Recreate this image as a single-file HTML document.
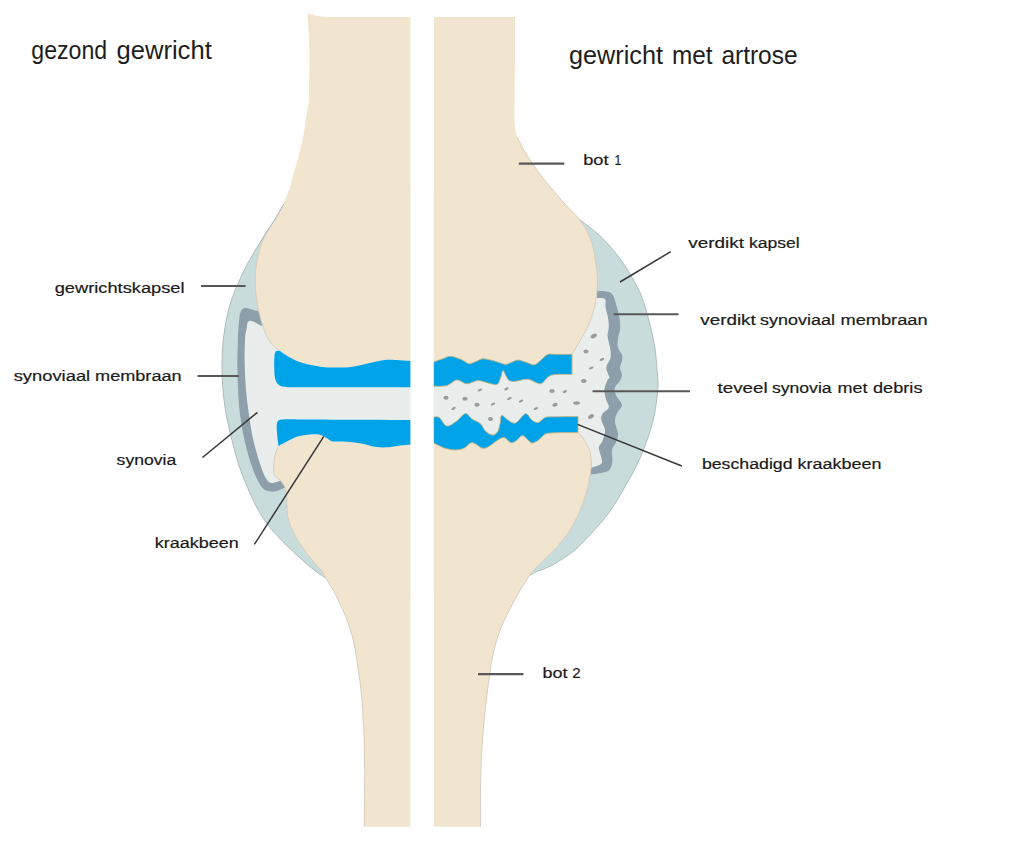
<!DOCTYPE html>
<html lang="nl">
<head>
<meta charset="utf-8">
<title>gezond gewricht / gewricht met artrose</title>
<style>
html,body{margin:0;padding:0;background:#fff;}
body{width:1024px;height:844px;overflow:hidden;font-family:"Liberation Sans",sans-serif;}
svg{display:block;}
text{font-family:"Liberation Sans",sans-serif;fill:#1a1a1a;}
text.l{stroke:#1a1a1a;stroke-width:0.2px;}
text.t{fill:#1e1e1e;}
</style>
</head>
<body>
<svg width="1024" height="844" viewBox="0 0 1024 844">
<rect width="1024" height="844" fill="#fff"/>
<g id="capsule" fill="#c8dcdb">
<path d="M289.2 190.0 C288.3 192.3 286.1 199.2 283.8 204.0 C281.5 208.8 278.3 214.0 275.5 218.5 C272.7 223.0 269.6 227.0 267.0 231.0 C264.4 235.0 262.7 238.1 260.0 242.5 C257.3 246.9 253.7 252.8 251.0 257.5 C248.3 262.2 246.0 266.6 243.8 271.0 C241.6 275.4 239.6 280.1 238.0 283.8 C236.4 287.5 235.5 288.8 234.0 293.0 C232.5 297.2 230.3 303.1 228.8 308.8 C227.3 314.6 226.0 321.3 225.0 327.5 C224.0 333.7 223.2 339.8 222.7 346.0 C222.2 352.2 222.0 359.0 222.0 365.0 C222.0 371.0 222.2 377.0 222.5 382.0 C222.8 387.0 222.9 389.5 223.5 395.0 C224.1 400.5 224.9 407.5 226.3 415.0 C227.7 422.5 229.8 431.7 231.9 440.0 C234.0 448.3 236.2 457.1 238.8 465.0 C241.4 472.9 244.4 480.2 247.5 487.5 C250.6 494.8 253.8 502.1 257.5 508.8 C261.2 515.5 265.2 521.5 270.0 527.5 C274.8 533.5 280.5 539.2 286.3 545.0 C292.1 550.8 299.8 557.9 305.0 562.5 C310.2 567.1 314.2 570.0 317.5 572.5 C320.8 575.0 321.9 573.8 325.0 577.5 C328.1 581.2 334.2 592.1 336.0 595.0 L410.6 595.0 L410.6 190.0 L289.2 190.0 Z"/>
<path d="M555.0 192.5 C556.9 194.7 562.1 200.9 566.3 205.5 C570.5 210.1 575.0 215.5 580.0 220.0 C585.0 224.5 591.5 228.3 596.3 232.5 C601.1 236.7 604.8 240.6 608.8 245.0 C612.8 249.4 616.5 254.0 620.0 258.8 C623.5 263.6 627.1 269.0 630.0 273.8 C632.9 278.6 635.6 283.9 637.5 287.5 C639.4 291.1 639.8 291.6 641.3 295.5 C642.8 299.4 644.6 305.2 646.3 311.0 C648.0 316.8 649.8 323.7 651.3 330.0 C652.8 336.3 654.1 342.6 655.0 348.8 C655.9 355.1 656.4 361.8 656.9 367.5 C657.4 373.2 657.9 378.8 658.0 383.0 C658.1 387.2 657.9 388.4 657.5 392.5 C657.1 396.6 656.4 402.5 655.6 407.5 C654.8 412.5 653.9 417.3 652.5 422.5 C651.1 427.7 649.4 433.4 647.5 438.8 C645.6 444.2 643.6 449.6 641.3 455.0 C639.0 460.4 636.2 466.3 633.8 471.0 C631.4 475.7 629.5 478.6 627.0 483.0 C624.5 487.4 621.6 492.8 618.8 497.5 C616.0 502.2 613.1 506.9 610.0 511.3 C606.9 515.7 603.8 519.4 600.0 523.8 C596.2 528.2 591.7 533.1 587.5 537.5 C583.3 541.9 579.2 546.5 575.0 550.0 C570.8 553.5 566.7 556.1 562.5 558.8 C558.3 561.5 554.2 564.2 550.0 566.3 C545.8 568.4 540.8 569.8 537.5 571.3 C534.2 572.8 532.9 571.9 530.0 575.0 C527.1 578.1 521.7 587.5 520.0 590.0 L433.6 590.0 L433.6 192.5 L555.0 192.5 Z"/>
</g>
<g id="synovia" fill="#e9eeec">
<path d="M259.0 311.5 C257.5 311.1 252.4 309.6 250.0 309.0 C247.6 308.4 246.1 307.5 244.5 308.0 C242.9 308.5 241.5 309.2 240.5 312.0 C239.5 314.8 239.0 320.3 238.6 325.0 C238.2 329.7 238.0 333.3 237.8 340.0 C237.6 346.7 237.3 356.7 237.3 365.0 C237.3 373.3 237.6 381.7 238.0 390.0 C238.4 398.3 238.9 406.7 240.0 415.0 C241.1 423.3 242.5 431.7 244.4 440.0 C246.3 448.3 248.9 457.9 251.3 465.0 C253.7 472.1 256.5 478.3 258.8 482.5 C261.1 486.7 262.3 488.5 265.0 490.0 C267.7 491.5 271.5 492.0 275.0 491.5 C278.5 491.0 284.2 487.8 286.0 487.0 L410.6 487.0 L410.6 311.5 L259.0 311.5 Z"/>
<path d="M597.0 290.8 C598.3 290.9 602.8 290.9 605.0 291.2 C607.2 291.5 609.1 291.7 610.5 292.5 C611.9 293.3 612.7 294.4 613.5 296.0 C614.3 297.6 614.8 299.5 615.5 302.0 C616.2 304.5 617.2 307.8 618.0 311.0 C618.8 314.2 619.7 317.8 620.0 321.0 C620.3 324.2 620.3 327.0 620.0 330.0 C619.7 333.0 618.3 336.1 618.0 339.0 C617.7 341.9 617.3 344.8 618.0 347.5 C618.7 350.2 621.3 352.8 622.0 355.0 C622.7 357.2 622.3 358.9 622.0 361.0 C621.7 363.1 620.0 365.2 620.0 367.5 C620.0 369.8 622.0 372.8 622.0 375.0 C622.0 377.2 621.2 378.9 620.0 381.0 C618.8 383.1 615.7 385.2 615.0 387.5 C614.3 389.8 614.8 392.1 616.0 395.0 C617.2 397.9 621.8 402.1 622.0 405.0 C622.2 407.9 618.7 409.8 617.5 412.5 C616.3 415.2 614.9 417.4 615.0 421.0 C615.1 424.6 617.8 430.4 618.0 434.0 C618.2 437.6 617.0 439.8 616.0 442.5 C615.0 445.2 612.6 446.9 612.0 450.0 C611.4 453.1 612.9 457.7 612.5 461.0 C612.1 464.3 611.3 468.0 609.4 470.0 C607.5 472.0 604.1 472.2 601.0 473.0 C597.9 473.8 592.2 474.3 590.5 474.6 L433.6 474.6 L433.6 290.8 L597.0 290.8 Z"/>
</g>
<g id="membrane" fill="#8d9fab">
<path d="M259.0 311.5 C257.5 311.1 252.4 309.6 250.0 309.0 C247.6 308.4 246.1 307.5 244.5 308.0 C242.9 308.5 241.5 309.2 240.5 312.0 C239.5 314.8 239.0 320.3 238.6 325.0 C238.2 329.7 238.0 333.3 237.8 340.0 C237.6 346.7 237.3 356.7 237.3 365.0 C237.3 373.3 237.6 381.7 238.0 390.0 C238.4 398.3 238.9 406.7 240.0 415.0 C241.1 423.3 242.5 431.7 244.4 440.0 C246.3 448.3 248.9 457.9 251.3 465.0 C253.7 472.1 256.5 478.3 258.8 482.5 C261.1 486.7 262.3 488.5 265.0 490.0 C267.7 491.5 271.5 492.0 275.0 491.5 C278.5 491.0 284.2 487.8 286.0 487.0 L281.0 480.5 C279.3 480.9 273.6 483.5 271.0 483.0 C268.4 482.5 267.2 480.5 265.5 477.5 C263.8 474.5 262.5 471.2 260.5 465.0 C258.5 458.8 255.2 448.3 253.3 440.0 C251.4 431.7 250.2 423.3 249.0 415.0 C247.8 406.7 246.7 398.3 246.0 390.0 C245.3 381.7 244.9 373.3 244.7 365.0 C244.5 356.7 244.7 345.8 245.0 340.0 C245.3 334.2 245.7 333.2 246.4 330.0 C247.2 326.8 246.7 321.4 249.5 320.8 C252.3 320.2 260.8 325.6 263.0 326.5 L259.0 311.5 Z"/>
<path d="M597.0 290.8 C598.3 290.9 602.8 290.9 605.0 291.2 C607.2 291.5 609.1 291.7 610.5 292.5 C611.9 293.3 612.7 294.4 613.5 296.0 C614.3 297.6 614.8 299.5 615.5 302.0 C616.2 304.5 617.2 307.8 618.0 311.0 C618.8 314.2 619.7 317.8 620.0 321.0 C620.3 324.2 620.3 327.0 620.0 330.0 C619.7 333.0 618.3 336.1 618.0 339.0 C617.7 341.9 617.3 344.8 618.0 347.5 C618.7 350.2 621.3 352.8 622.0 355.0 C622.7 357.2 622.3 358.9 622.0 361.0 C621.7 363.1 620.0 365.2 620.0 367.5 C620.0 369.8 622.0 372.8 622.0 375.0 C622.0 377.2 621.2 378.9 620.0 381.0 C618.8 383.1 615.7 385.2 615.0 387.5 C614.3 389.8 614.8 392.1 616.0 395.0 C617.2 397.9 621.8 402.1 622.0 405.0 C622.2 407.9 618.7 409.8 617.5 412.5 C616.3 415.2 614.9 417.4 615.0 421.0 C615.1 424.6 617.8 430.4 618.0 434.0 C618.2 437.6 617.0 439.8 616.0 442.5 C615.0 445.2 612.6 446.9 612.0 450.0 C611.4 453.1 612.9 457.7 612.5 461.0 C612.1 464.3 611.3 468.0 609.4 470.0 C607.5 472.0 604.1 472.2 601.0 473.0 C597.9 473.8 592.2 474.3 590.5 474.6 L591.0 467.8 C592.7 467.1 599.6 465.5 601.3 463.8 C603.0 462.1 601.7 460.2 601.3 457.5 C600.9 454.8 598.6 450.2 598.8 447.5 C599.0 444.8 601.5 443.9 602.5 441.0 C603.5 438.1 605.2 433.5 605.0 430.0 C604.8 426.5 601.7 422.7 601.3 420.0 C600.9 417.3 601.2 415.9 602.5 413.8 C603.8 411.7 608.2 409.8 608.8 407.5 C609.4 405.2 607.0 402.9 606.3 400.0 C605.6 397.1 604.2 393.3 604.4 390.0 C604.6 386.7 606.7 382.1 607.5 380.0 C608.3 377.9 609.6 379.6 609.4 377.5 C609.2 375.4 606.1 370.8 606.3 367.5 C606.5 364.2 610.0 360.8 610.6 357.5 C611.2 354.2 610.5 351.1 610.0 347.5 C609.5 343.9 607.7 339.3 607.5 336.0 C607.3 332.7 608.7 330.6 608.8 327.5 C608.9 324.4 608.5 320.8 608.0 317.5 C607.5 314.2 606.1 310.6 605.6 307.5 C605.1 304.4 606.4 300.6 605.0 299.0 C603.6 297.4 598.3 298.2 597.0 298.0 L597.0 290.8 Z"/>
</g>
<g id="debris" fill="#9b9b98"><ellipse cx="593.8" cy="336.0" rx="3.4" ry="1.9" transform="rotate(-30 593.8 336.0)"/><ellipse cx="586.0" cy="351.5" rx="2.5" ry="1.9" transform="rotate(0 586.0 351.5)"/><ellipse cx="602.0" cy="359.4" rx="2.4" ry="1.2" transform="rotate(-25 602.0 359.4)"/><ellipse cx="591.3" cy="368.0" rx="2.4" ry="1.2" transform="rotate(-25 591.3 368.0)"/><ellipse cx="583.8" cy="381.0" rx="2.8" ry="1.9" transform="rotate(0 583.8 381.0)"/><ellipse cx="552.0" cy="391.0" rx="2.6" ry="2.0" transform="rotate(0 552.0 391.0)"/><ellipse cx="564.8" cy="391.6" rx="2.3" ry="1.2" transform="rotate(-25 564.8 391.6)"/><ellipse cx="555.0" cy="404.8" rx="2.7" ry="1.8" transform="rotate(-15 555.0 404.8)"/><ellipse cx="576.6" cy="403.0" rx="3.4" ry="1.8" transform="rotate(0 576.6 403.0)"/><ellipse cx="591.0" cy="416.5" rx="3.2" ry="1.9" transform="rotate(-30 591.0 416.5)"/><ellipse cx="446.0" cy="397.8" rx="2.6" ry="2.0" transform="rotate(0 446.0 397.8)"/><ellipse cx="465.0" cy="398.8" rx="2.6" ry="2.0" transform="rotate(0 465.0 398.8)"/><ellipse cx="480.0" cy="390.0" rx="2.4" ry="1.2" transform="rotate(-25 480.0 390.0)"/><ellipse cx="477.0" cy="404.8" rx="2.6" ry="2.0" transform="rotate(0 477.0 404.8)"/><ellipse cx="493.0" cy="404.0" rx="2.5" ry="1.2" transform="rotate(-25 493.0 404.0)"/><ellipse cx="453.6" cy="408.5" rx="2.3" ry="1.2" transform="rotate(-30 453.6 408.5)"/><ellipse cx="490.5" cy="419.0" rx="2.5" ry="1.9" transform="rotate(0 490.5 419.0)"/><ellipse cx="506.5" cy="388.8" rx="2.4" ry="1.2" transform="rotate(-25 506.5 388.8)"/><ellipse cx="509.5" cy="398.5" rx="2.5" ry="1.2" transform="rotate(-25 509.5 398.5)"/><ellipse cx="521.0" cy="401.0" rx="2.3" ry="1.2" transform="rotate(-25 521.0 401.0)"/><ellipse cx="536.0" cy="408.5" rx="2.5" ry="1.2" transform="rotate(-25 536.0 408.5)"/></g>
<g id="bones" fill="#f2e5cf">
<path d="M410.6 17.0 L330.0 17.0 C328.0 16.8 321.8 16.7 318.0 16.0 C314.2 15.3 309.2 13.5 307.5 13.0 C307.8 19.2 309.2 38.8 309.5 50.0 C309.8 61.2 309.1 71.7 309.0 80.0 C308.9 88.3 309.2 94.6 308.8 100.0 C308.4 105.4 307.5 108.3 306.9 112.5 C306.3 116.7 305.6 120.8 305.0 125.0 C304.4 129.2 303.9 133.3 303.1 137.5 C302.3 141.7 301.0 145.8 300.0 150.0 C299.0 154.2 298.0 158.3 296.9 162.5 C295.8 166.7 294.4 170.4 293.1 175.0 C291.8 179.6 290.8 185.2 289.2 190.0 C287.6 194.8 285.8 199.8 283.8 204.0 C281.9 208.2 279.8 211.1 277.5 215.0 C275.2 218.9 272.4 223.3 270.0 227.5 C267.6 231.7 264.9 235.8 263.0 240.0 C261.1 244.2 259.9 248.3 258.8 252.5 C257.7 256.7 256.9 260.8 256.3 265.0 C255.7 269.2 255.4 273.3 255.3 277.5 C255.2 281.7 255.2 285.4 255.6 290.0 C256.0 294.6 256.6 299.8 257.5 305.0 C258.4 310.2 259.8 316.0 261.3 321.0 C262.8 326.0 264.4 331.0 266.3 335.0 C268.2 339.0 270.2 342.3 272.5 345.0 C274.8 347.7 277.1 348.9 280.0 351.0 C282.9 353.1 286.2 355.5 290.0 357.5 C293.8 359.5 297.1 361.4 302.5 363.0 C307.9 364.6 316.8 366.2 322.5 367.0 C328.2 367.8 332.2 367.5 337.0 367.5 C341.8 367.5 345.5 367.8 351.0 367.0 C356.5 366.2 364.3 364.2 370.0 363.0 C375.7 361.8 380.0 360.4 385.0 360.0 C390.0 359.6 395.7 360.1 400.0 360.3 C404.3 360.5 408.8 360.9 410.6 361.0 L410.6 17.0 Z"/>
<path d="M410.6 444.5 C408.8 444.7 403.9 445.1 400.0 445.6 C396.1 446.1 391.7 447.1 387.5 447.3 C383.3 447.5 379.2 447.4 375.0 446.8 C370.8 446.2 366.7 444.6 362.5 443.8 C358.3 443.0 354.1 442.4 350.0 442.0 C345.9 441.6 341.1 441.8 338.0 441.6 C334.9 441.4 333.5 441.8 331.3 441.0 C329.1 440.2 327.1 438.1 325.0 437.0 C322.9 435.9 321.3 435.0 318.8 434.6 C316.3 434.2 313.6 434.1 310.0 434.4 C306.4 434.7 301.7 435.1 297.5 436.5 C293.3 437.9 288.2 440.9 285.0 442.5 C281.8 444.1 279.6 445.4 278.5 446.0 C277.9 447.5 275.8 451.8 275.0 455.0 C274.2 458.2 273.9 461.7 273.8 465.0 C273.7 468.3 273.4 472.5 274.4 475.0 C275.4 477.5 278.2 477.9 280.0 480.0 C281.8 482.1 283.9 485.0 285.0 487.5 C286.1 490.0 286.2 492.5 286.5 495.0 C286.8 497.5 286.7 499.2 286.9 502.5 C287.1 505.8 286.8 510.8 287.5 515.0 C288.2 519.2 289.6 523.3 291.3 527.5 C293.0 531.7 295.0 535.8 297.5 540.0 C300.0 544.2 303.2 548.3 306.3 552.5 C309.4 556.7 313.8 562.0 316.3 565.0 C318.8 568.0 319.6 568.2 321.3 570.5 C323.0 572.8 324.2 575.3 326.3 578.8 C328.4 582.3 331.5 587.1 333.8 591.3 C336.1 595.5 338.0 599.6 340.0 603.8 C342.0 608.0 343.9 612.1 345.6 616.3 C347.3 620.5 348.6 624.4 350.0 628.8 C351.4 633.2 352.8 637.9 353.8 642.5 C354.9 647.1 355.5 651.2 356.3 656.3 C357.1 661.4 358.0 667.4 358.8 673.0 C359.6 678.6 360.4 684.2 361.0 690.0 C361.6 695.8 362.0 699.7 362.5 708.0 C363.0 716.3 363.8 728.0 364.2 740.0 C364.6 752.0 364.6 765.5 364.6 780.0 C364.6 794.5 364.4 819.0 364.3 826.8 L410.6 826.8 L410.6 444.5 Z"/>
<path d="M433.6 17.0 L515.0 17.0 C515.0 24.2 515.1 46.2 515.0 60.0 C514.9 73.8 514.6 89.2 514.6 100.0 C514.6 110.8 514.3 118.8 514.8 125.0 C515.3 131.2 516.0 133.3 517.5 137.5 C519.0 141.7 521.3 145.6 523.8 150.0 C526.3 154.4 529.4 159.2 532.5 163.8 C535.6 168.4 538.8 172.7 542.5 177.5 C546.2 182.3 551.0 187.8 555.0 192.5 C559.0 197.2 562.1 200.9 566.3 205.5 C570.5 210.1 576.5 215.5 580.0 220.0 C583.5 224.5 585.4 228.3 587.5 232.5 C589.6 236.7 591.2 240.8 592.5 245.0 C593.8 249.2 594.3 253.2 595.0 257.5 C595.7 261.8 596.5 266.6 596.9 271.0 C597.3 275.4 597.5 280.2 597.5 283.8 C597.5 287.4 597.3 289.0 596.9 292.5 C596.5 296.0 595.9 300.8 595.0 305.0 C594.1 309.2 593.0 313.3 591.5 317.5 C590.0 321.7 588.1 325.8 586.0 330.0 C583.9 334.2 581.3 338.4 579.0 342.5 C576.7 346.6 573.2 352.4 572.0 354.4 C569.2 354.4 559.5 354.3 555.4 354.3 C551.3 354.3 550.0 353.6 547.5 354.6 C545.0 355.6 542.7 358.8 540.5 360.5 C538.3 362.2 536.7 364.5 534.3 364.8 C531.9 365.1 528.7 363.1 526.0 362.3 C523.3 361.5 520.5 360.0 518.0 360.0 C515.5 360.0 513.1 361.8 511.0 362.5 C508.9 363.2 507.5 364.4 505.5 364.4 C503.5 364.4 501.1 363.1 499.0 362.5 C496.9 361.9 495.7 361.2 493.0 360.6 C490.3 360.0 485.8 358.7 483.0 358.8 C480.2 358.9 478.3 360.7 476.0 361.5 C473.7 362.3 471.3 363.9 469.3 363.8 C467.3 363.7 465.7 361.8 464.0 361.0 C462.3 360.2 461.6 359.6 459.3 358.8 C457.1 358.0 453.4 356.3 450.5 356.3 C447.6 356.3 444.8 358.1 442.0 359.0 C439.2 359.9 435.0 361.5 433.6 362.0 L433.6 17.0 Z"/>
<path d="M433.6 443.0 C435.4 443.8 440.7 446.8 444.3 448.0 C447.9 449.2 452.2 450.0 455.5 450.0 C458.8 450.0 461.8 449.2 464.3 448.0 C466.8 446.8 468.6 443.7 470.5 443.0 C472.4 442.3 473.6 443.0 475.5 443.8 C477.4 444.6 479.7 447.5 481.8 448.0 C483.9 448.5 485.3 448.3 488.0 447.0 C490.7 445.7 495.3 441.6 498.0 440.0 C500.7 438.4 502.2 437.1 504.3 437.5 C506.4 437.9 508.6 441.9 510.5 442.5 C512.4 443.1 513.5 442.4 515.5 441.3 C517.5 440.2 520.3 435.8 522.4 435.6 C524.5 435.4 526.4 438.8 528.0 440.0 C529.6 441.2 530.3 442.8 531.8 443.0 C533.3 443.2 535.2 442.2 536.8 441.3 C538.4 440.4 540.0 438.6 541.5 437.3 C543.0 436.1 543.7 434.6 546.0 433.8 C548.3 433.1 550.1 433.0 555.4 432.8 C560.7 432.6 574.2 432.6 578.0 432.6 C578.5 433.0 579.9 433.7 581.0 435.0 C582.1 436.3 583.5 438.7 584.7 440.6 C585.9 442.5 587.1 444.4 588.0 446.5 C588.9 448.6 589.8 449.9 590.3 453.0 C590.8 456.1 591.3 461.2 591.3 465.0 C591.2 468.8 590.4 473.2 590.0 476.0 C589.6 478.8 589.6 479.2 589.0 482.0 C588.4 484.8 587.6 488.2 586.3 492.5 C585.0 496.8 583.2 502.7 581.3 507.5 C579.4 512.3 577.3 516.9 575.0 521.3 C572.7 525.7 570.4 529.6 567.5 533.8 C564.6 538.0 560.8 542.5 557.5 546.3 C554.2 550.0 550.8 553.0 547.5 556.3 C544.2 559.6 540.4 563.2 537.5 566.3 C534.6 569.4 532.1 572.3 530.0 575.0 C527.9 577.7 527.1 579.2 525.0 582.5 C522.9 585.8 520.0 590.6 517.5 595.0 C515.0 599.4 512.3 604.4 510.0 608.8 C507.7 613.2 505.7 617.1 503.8 621.3 C501.9 625.5 500.3 629.6 498.8 633.8 C497.3 638.0 496.1 641.9 495.0 646.3 C493.9 650.7 492.7 655.6 491.9 660.0 C491.1 664.4 490.9 665.8 490.0 672.5 C489.1 679.2 487.6 688.8 486.3 700.0 C485.1 711.2 483.4 726.7 482.5 740.0 C481.6 753.3 481.0 765.5 480.7 780.0 C480.4 794.5 480.5 819.0 480.5 826.8 L433.6 826.8 L433.6 443.0 Z"/>
</g>
<g id="bone-outline" fill="none" stroke="#d3cabb" stroke-width="0.9">
<path d="M283.8 204.0 C282.8 205.8 279.8 211.1 277.5 215.0 C275.2 218.9 272.4 223.3 270.0 227.5 C267.6 231.7 264.9 235.8 263.0 240.0 C261.1 244.2 259.9 248.3 258.8 252.5 C257.7 256.7 256.9 260.8 256.3 265.0 C255.7 269.2 255.4 273.3 255.3 277.5 C255.2 281.7 255.2 285.4 255.6 290.0 C256.0 294.6 256.6 299.8 257.5 305.0 C258.4 310.2 259.8 316.0 261.3 321.0 C262.8 326.0 264.4 331.0 266.3 335.0 C268.2 339.0 270.2 342.3 272.5 345.0 C274.8 347.7 278.8 350.0 280.0 351.0 "/>
<path d="M278.5 446.0 C277.9 447.5 275.8 451.8 275.0 455.0 C274.2 458.2 273.9 461.7 273.8 465.0 C273.7 468.3 273.4 472.5 274.4 475.0 C275.4 477.5 278.2 477.9 280.0 480.0 C281.8 482.1 283.9 485.0 285.0 487.5 C286.1 490.0 286.2 492.5 286.5 495.0 C286.8 497.5 286.7 499.2 286.9 502.5 C287.1 505.8 286.8 510.8 287.5 515.0 C288.2 519.2 289.6 523.3 291.3 527.5 C293.0 531.7 295.0 535.8 297.5 540.0 C300.0 544.2 303.2 548.3 306.3 552.5 C309.4 556.7 313.8 562.0 316.3 565.0 C318.8 568.0 319.6 568.2 321.3 570.5 C323.0 572.8 324.2 575.3 326.3 578.8 C328.4 582.3 331.5 587.1 333.8 591.3 C336.1 595.5 338.0 599.6 340.0 603.8 C342.0 608.0 343.9 612.1 345.6 616.3 C347.3 620.5 348.6 624.4 350.0 628.8 C351.4 633.2 352.8 637.9 353.8 642.5 C354.9 647.1 355.5 651.2 356.3 656.3 C357.1 661.4 358.0 667.4 358.8 673.0 C359.6 678.6 360.4 684.2 361.0 690.0 C361.6 695.8 362.0 699.7 362.5 708.0 C363.0 716.3 363.8 728.0 364.2 740.0 C364.6 752.0 364.6 765.5 364.6 780.0 C364.6 794.5 364.4 819.0 364.3 826.8 "/>
<path d="M517.5 137.5 C518.5 139.6 521.3 145.6 523.8 150.0 C526.3 154.4 529.4 159.2 532.5 163.8 C535.6 168.4 538.8 172.7 542.5 177.5 C546.2 182.3 551.0 187.8 555.0 192.5 C559.0 197.2 562.1 200.9 566.3 205.5 C570.5 210.1 576.5 215.5 580.0 220.0 C583.5 224.5 585.4 228.3 587.5 232.5 C589.6 236.7 591.2 240.8 592.5 245.0 C593.8 249.2 594.3 253.2 595.0 257.5 C595.7 261.8 596.5 266.6 596.9 271.0 C597.3 275.4 597.5 280.2 597.5 283.8 C597.5 287.4 597.3 289.0 596.9 292.5 C596.5 296.0 595.9 300.8 595.0 305.0 C594.1 309.2 593.0 313.3 591.5 317.5 C590.0 321.7 588.1 325.8 586.0 330.0 C583.9 334.2 581.3 338.4 579.0 342.5 C576.7 346.6 573.2 352.4 572.0 354.4 "/>
<path d="M578.0 432.6 C578.5 433.0 579.9 433.7 581.0 435.0 C582.1 436.3 583.5 438.7 584.7 440.6 C585.9 442.5 587.1 444.4 588.0 446.5 C588.9 448.6 589.8 449.9 590.3 453.0 C590.8 456.1 591.3 461.2 591.3 465.0 C591.2 468.8 590.4 473.2 590.0 476.0 C589.6 478.8 589.6 479.2 589.0 482.0 C588.4 484.8 587.6 488.2 586.3 492.5 C585.0 496.8 583.2 502.7 581.3 507.5 C579.4 512.3 577.3 516.9 575.0 521.3 C572.7 525.7 570.4 529.6 567.5 533.8 C564.6 538.0 560.8 542.5 557.5 546.3 C554.2 550.0 550.8 553.0 547.5 556.3 C544.2 559.6 540.4 563.2 537.5 566.3 C534.6 569.4 532.1 572.3 530.0 575.0 C527.9 577.7 527.1 579.2 525.0 582.5 C522.9 585.8 520.0 590.6 517.5 595.0 C515.0 599.4 512.3 604.4 510.0 608.8 C507.7 613.2 505.7 617.1 503.8 621.3 C501.9 625.5 500.3 629.6 498.8 633.8 C497.3 638.0 496.1 641.9 495.0 646.3 C493.9 650.7 492.7 655.6 491.9 660.0 C491.1 664.4 490.9 665.8 490.0 672.5 C489.1 679.2 487.6 688.8 486.3 700.0 C485.1 711.2 483.4 726.7 482.5 740.0 C481.6 753.3 481.0 765.5 480.7 780.0 C480.4 794.5 480.5 819.0 480.5 826.8 "/>
</g>
<g id="capsule-outline" fill="none" stroke="#adbcbc" stroke-width="1">
<path d="M283.8 204.0 C282.4 206.4 278.3 214.0 275.5 218.5 C272.7 223.0 269.6 227.0 267.0 231.0 C264.4 235.0 262.7 238.1 260.0 242.5 C257.3 246.9 253.7 252.8 251.0 257.5 C248.3 262.2 246.0 266.6 243.8 271.0 C241.6 275.4 239.6 280.1 238.0 283.8 C236.4 287.5 235.5 288.8 234.0 293.0 C232.5 297.2 230.3 303.1 228.8 308.8 C227.3 314.6 226.0 321.3 225.0 327.5 C224.0 333.7 223.2 339.8 222.7 346.0 C222.2 352.2 222.0 359.0 222.0 365.0 C222.0 371.0 222.2 377.0 222.5 382.0 C222.8 387.0 222.9 389.5 223.5 395.0 C224.1 400.5 224.9 407.5 226.3 415.0 C227.7 422.5 229.8 431.7 231.9 440.0 C234.0 448.3 236.2 457.1 238.8 465.0 C241.4 472.9 244.4 480.2 247.5 487.5 C250.6 494.8 253.8 502.1 257.5 508.8 C261.2 515.5 265.2 521.5 270.0 527.5 C274.8 533.5 280.5 539.2 286.3 545.0 C292.1 550.8 299.8 557.9 305.0 562.5 C310.2 567.1 314.2 570.0 317.5 572.5 C320.8 575.0 323.8 576.7 325.0 577.5 "/>
<path d="M580.0 220.0 C582.7 222.1 591.5 228.3 596.3 232.5 C601.1 236.7 604.8 240.6 608.8 245.0 C612.8 249.4 616.5 254.0 620.0 258.8 C623.5 263.6 627.1 269.0 630.0 273.8 C632.9 278.6 635.6 283.9 637.5 287.5 C639.4 291.1 639.8 291.6 641.3 295.5 C642.8 299.4 644.6 305.2 646.3 311.0 C648.0 316.8 649.8 323.7 651.3 330.0 C652.8 336.3 654.1 342.6 655.0 348.8 C655.9 355.1 656.4 361.8 656.9 367.5 C657.4 373.2 657.9 378.8 658.0 383.0 C658.1 387.2 657.9 388.4 657.5 392.5 C657.1 396.6 656.4 402.5 655.6 407.5 C654.8 412.5 653.9 417.3 652.5 422.5 C651.1 427.7 649.4 433.4 647.5 438.8 C645.6 444.2 643.6 449.6 641.3 455.0 C639.0 460.4 636.2 466.3 633.8 471.0 C631.4 475.7 629.5 478.6 627.0 483.0 C624.5 487.4 621.6 492.8 618.8 497.5 C616.0 502.2 613.1 506.9 610.0 511.3 C606.9 515.7 603.8 519.4 600.0 523.8 C596.2 528.2 591.7 533.1 587.5 537.5 C583.3 541.9 579.2 546.5 575.0 550.0 C570.8 553.5 566.7 556.1 562.5 558.8 C558.3 561.5 554.2 564.2 550.0 566.3 C545.8 568.4 540.8 569.8 537.5 571.3 C534.2 572.8 531.2 574.4 530.0 575.0 "/>
</g>
<g id="cartilage" fill="#00a2e8">
<path d="M410.6 361.0 C408.8 360.9 404.3 360.5 400.0 360.3 C395.7 360.1 390.0 359.6 385.0 360.0 C380.0 360.4 375.7 361.8 370.0 363.0 C364.3 364.2 356.5 366.2 351.0 367.0 C345.5 367.8 341.8 367.5 337.0 367.5 C332.2 367.5 328.2 367.8 322.5 367.0 C316.8 366.2 307.9 364.6 302.5 363.0 C297.1 361.4 293.8 359.5 290.0 357.5 C286.2 355.5 281.7 352.1 280.0 351.0 C279.5 351.0 277.7 350.4 276.8 350.8 C275.9 351.2 275.2 352.1 274.8 353.5 C274.4 354.9 274.4 356.9 274.3 359.0 C274.2 361.1 274.1 363.0 274.2 366.0 C274.3 369.0 274.3 374.2 274.8 377.0 C275.3 379.8 276.0 381.5 277.0 383.0 C278.0 384.5 279.3 385.3 281.0 386.0 C282.7 386.7 283.8 386.8 287.0 387.0 C290.2 387.2 279.4 387.2 300.0 387.2 C320.6 387.2 392.2 387.2 410.6 387.2 L410.6 361.0 Z"/>
<path d="M410.6 420.0 C392.2 419.9 321.1 419.6 300.0 419.5 C278.9 419.4 287.4 419.3 284.0 419.4 C280.6 419.5 280.7 419.4 279.5 420.0 C278.3 420.6 277.4 421.3 277.0 423.0 C276.6 424.7 276.7 427.5 276.8 430.0 C276.9 432.5 277.2 435.3 277.5 438.0 C277.8 440.7 278.3 444.7 278.5 446.0 C279.6 445.4 281.8 444.1 285.0 442.5 C288.2 440.9 293.3 437.9 297.5 436.5 C301.7 435.1 306.4 434.7 310.0 434.4 C313.6 434.1 316.3 434.2 318.8 434.6 C321.3 435.0 322.9 435.9 325.0 437.0 C327.1 438.1 329.1 440.2 331.3 441.0 C333.5 441.8 334.9 441.4 338.0 441.6 C341.1 441.8 345.9 441.6 350.0 442.0 C354.1 442.4 358.3 443.0 362.5 443.8 C366.7 444.6 370.8 446.2 375.0 446.8 C379.2 447.4 383.3 447.5 387.5 447.3 C391.7 447.1 396.1 446.1 400.0 445.6 C403.9 445.1 408.8 444.7 410.6 444.5 L410.6 420.0 Z"/>
<path d="M433.6 362.0 C435.0 361.5 439.2 359.9 442.0 359.0 C444.8 358.1 447.6 356.3 450.5 356.3 C453.4 356.3 457.1 358.0 459.3 358.8 C461.6 359.6 462.3 360.2 464.0 361.0 C465.7 361.8 467.3 363.7 469.3 363.8 C471.3 363.9 473.7 362.3 476.0 361.5 C478.3 360.7 480.2 358.9 483.0 358.8 C485.8 358.7 490.3 360.0 493.0 360.6 C495.7 361.2 496.9 361.9 499.0 362.5 C501.1 363.1 503.5 364.4 505.5 364.4 C507.5 364.4 508.9 363.2 511.0 362.5 C513.1 361.8 515.5 360.0 518.0 360.0 C520.5 360.0 523.3 361.5 526.0 362.3 C528.7 363.1 531.9 365.1 534.3 364.8 C536.7 364.5 538.3 362.2 540.5 360.5 C542.7 358.8 545.0 355.6 547.5 354.6 C550.0 353.6 551.3 354.3 555.4 354.3 C559.5 354.3 569.2 354.4 572.0 354.4 L572.0 374.4 C569.2 374.4 559.4 374.2 555.4 374.6 C551.4 375.0 550.5 375.5 548.0 377.0 C545.5 378.5 543.8 383.4 540.5 383.8 C537.2 384.2 532.2 379.6 528.0 379.2 C523.8 378.8 518.6 381.1 515.5 381.3 C512.4 381.5 510.9 381.4 509.3 380.5 C507.7 379.6 507.1 377.7 506.0 376.0 C504.9 374.3 503.9 370.2 503.0 370.5 C502.1 370.8 501.5 375.7 500.5 378.0 C499.5 380.3 499.1 383.7 497.0 384.5 C494.9 385.3 491.2 383.6 488.0 383.0 C484.8 382.4 481.5 380.5 478.0 380.6 C474.5 380.7 470.3 383.9 466.8 383.8 C463.3 383.7 460.1 379.7 456.8 380.0 C453.5 380.3 450.7 384.6 446.8 385.6 C442.9 386.7 435.8 386.2 433.6 386.3 L433.6 362.0 Z" stroke="#c4b27e" stroke-width="0.9"/>
<path d="M433.6 417.0 C434.6 417.1 437.1 416.0 439.3 417.5 C441.5 419.0 443.9 425.4 446.8 426.0 C449.7 426.6 453.7 423.1 456.8 421.0 C459.9 418.9 463.0 413.9 465.5 413.5 C468.0 413.1 469.3 417.1 471.8 418.8 C474.3 420.5 478.2 421.7 480.5 423.8 C482.8 425.9 483.4 429.4 485.5 431.3 C487.6 433.2 490.9 435.1 493.0 435.0 C495.1 434.9 496.8 433.2 498.0 431.0 C499.2 428.8 499.7 424.6 500.3 422.0 C500.9 419.4 500.5 415.6 501.8 415.3 C503.1 415.0 505.7 418.7 508.0 420.0 C510.3 421.3 512.6 424.0 515.5 423.0 C518.4 422.0 522.8 414.3 525.5 413.8 C528.2 413.3 529.8 418.5 531.8 420.0 C533.8 421.5 536.1 422.7 537.8 422.7 C539.5 422.7 540.6 420.7 542.0 419.8 C543.4 418.9 543.8 417.7 546.0 417.2 C548.2 416.7 550.1 416.9 555.4 416.8 C560.7 416.7 574.2 416.6 578.0 416.6 L578.0 432.6 C574.2 432.6 560.7 432.6 555.4 432.8 C550.1 433.0 548.3 433.1 546.0 433.8 C543.7 434.6 543.0 436.1 541.5 437.3 C540.0 438.6 538.4 440.4 536.8 441.3 C535.2 442.2 533.3 443.2 531.8 443.0 C530.3 442.8 529.6 441.2 528.0 440.0 C526.4 438.8 524.5 435.4 522.4 435.6 C520.3 435.8 517.5 440.2 515.5 441.3 C513.5 442.4 512.4 443.1 510.5 442.5 C508.6 441.9 506.4 437.9 504.3 437.5 C502.2 437.1 500.7 438.4 498.0 440.0 C495.3 441.6 490.7 445.7 488.0 447.0 C485.3 448.3 483.9 448.5 481.8 448.0 C479.7 447.5 477.4 444.6 475.5 443.8 C473.6 443.0 472.4 442.3 470.5 443.0 C468.6 443.7 466.8 446.8 464.3 448.0 C461.8 449.2 458.8 450.0 455.5 450.0 C452.2 450.0 447.9 449.2 444.3 448.0 C440.7 446.8 435.4 443.8 433.6 443.0 L433.6 417.0 Z" stroke="#c4b27e" stroke-width="0.9"/>
</g>
<rect x="410.6" y="0" width="23.0" height="844" fill="#fff"/>
<g id="leaders" fill="none"><g stroke="#585858" stroke-width="2.1"><line x1="201.0" y1="286.0" x2="245.6" y2="286.0"/><line x1="197.5" y1="376.0" x2="239.0" y2="376.0"/><line x1="518.8" y1="163.6" x2="564.3" y2="163.6"/><line x1="613.8" y1="314.2" x2="678.5" y2="314.2"/><line x1="592.5" y1="391.2" x2="690.0" y2="391.2"/><line x1="478.0" y1="674.1" x2="523.5" y2="674.1"/></g><g stroke="#383838" stroke-width="1.5"><line x1="202.5" y1="457.5" x2="257.5" y2="412.3"/><line x1="254.4" y1="544.4" x2="323.8" y2="436.3"/><line x1="620.0" y1="282.0" x2="670.8" y2="251.6"/><line x1="577.5" y1="424.4" x2="681.8" y2="466.0"/></g></g>
<g id="labels">
<text class="t" y="59.0" font-size="25"><tspan x="31.3" textLength="75.9" lengthAdjust="spacingAndGlyphs">gezond</tspan> <tspan x="116.4" textLength="95.4" lengthAdjust="spacingAndGlyphs">gewricht</tspan></text>
<text class="t" y="64.0" font-size="25"><tspan x="569.0" textLength="94.0" lengthAdjust="spacingAndGlyphs">gewricht</tspan> <tspan x="671.9" textLength="40.6" lengthAdjust="spacingAndGlyphs">met</tspan> <tspan x="721.4" textLength="76.2" lengthAdjust="spacingAndGlyphs">artrose</tspan></text>
<text class="l" y="292.5" font-size="15.5"><tspan x="54.7" textLength="129.9" lengthAdjust="spacingAndGlyphs">gewrichtskapsel</tspan></text>
<text class="l" y="381.3" font-size="15.5"><tspan x="13.7" textLength="76.5" lengthAdjust="spacingAndGlyphs">synoviaal</tspan> <tspan x="95.1" textLength="86.5" lengthAdjust="spacingAndGlyphs">membraan</tspan></text>
<text class="l" y="465.0" font-size="15.5"><tspan x="116.6" textLength="59.6" lengthAdjust="spacingAndGlyphs">synovia</tspan></text>
<text class="l" y="548.4" font-size="15.5"><tspan x="154.7" textLength="84.0" lengthAdjust="spacingAndGlyphs">kraakbeen</tspan></text>
<text class="l" y="164.9" font-size="15.5"><tspan x="583.2" textLength="25.4" lengthAdjust="spacingAndGlyphs">bot</tspan> <tspan x="614.5" textLength="6.8" lengthAdjust="spacingAndGlyphs">1</tspan></text>
<text class="l" y="248.4" font-size="15.5"><tspan x="688.3" textLength="55.7" lengthAdjust="spacingAndGlyphs">verdikt</tspan> <tspan x="748.9" textLength="50.7" lengthAdjust="spacingAndGlyphs">kapsel</tspan></text>
<text class="l" y="325.4" font-size="15.5"><tspan x="700.3" textLength="55.4" lengthAdjust="spacingAndGlyphs">verdikt</tspan> <tspan x="760.0" textLength="74.9" lengthAdjust="spacingAndGlyphs">synoviaal</tspan> <tspan x="840.5" textLength="87.1" lengthAdjust="spacingAndGlyphs">membraan</tspan></text>
<text class="l" y="393.4" font-size="15.5"><tspan x="717.6" textLength="50.0" lengthAdjust="spacingAndGlyphs">teveel</tspan> <tspan x="771.9" textLength="59.7" lengthAdjust="spacingAndGlyphs">synovia</tspan> <tspan x="837.4" textLength="30.0" lengthAdjust="spacingAndGlyphs">met</tspan> <tspan x="873.0" textLength="49.5" lengthAdjust="spacingAndGlyphs">debris</tspan></text>
<text class="l" y="468.6" font-size="15.5"><tspan x="701.9" textLength="90.7" lengthAdjust="spacingAndGlyphs">beschadigd</tspan> <tspan x="797.6" textLength="83.8" lengthAdjust="spacingAndGlyphs">kraakbeen</tspan></text>
<text class="l" y="678.4" font-size="15.5"><tspan x="542.4" textLength="25.0" lengthAdjust="spacingAndGlyphs">bot</tspan> <tspan x="572.3" textLength="8.4" lengthAdjust="spacingAndGlyphs">2</tspan></text>
</g>
</svg>
</body>
</html>
